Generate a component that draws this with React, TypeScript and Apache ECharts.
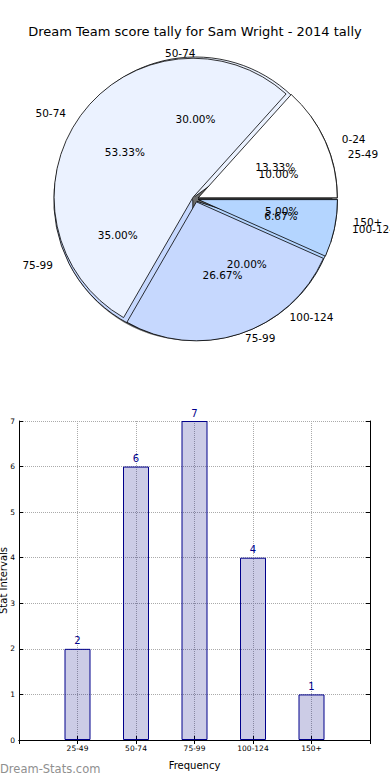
import React, { useEffect, useRef } from 'react';
import * as echarts from 'echarts';

const titleText = 'Dream Team score tally for Sam Wright - 2014 tally';

// Pie A (underneath)
const pieALabels = ['25-49', '50-74', '75-99', '100-124', '150+'];
const pieAValues = [2, 6, 7, 4, 1];
// Pie B (on top)
const pieBLabels = ['0-24', '50-74', '75-99', '100-124'];
const pieBValues = [2, 8, 4, 1];
const pieColors = ['#ffffff', '#ebf2ff', '#c6d8fe', '#b4d5ff', '#a2c8ff'];

// Bar chart
const barCategories = ['25-49', '50-74', '75-99', '100-124', '150+'];
const barValues = [2, 6, 7, 4, 1];
const yMax = 7;

export default function App() {
  const ref = useRef<HTMLDivElement>(null);
  useEffect(() => {
    document.body.style.margin = '0';
    const chart = echarts.init(ref.current!, null, { renderer: 'svg' });
    const cx = 195.5;
    const cy = 199;
    const r = 139;
    // label ellipse radii (the reference pie is slightly elliptical)
    const rx = 145.5;
    const ry = 133;
    const L = 12;
    const dist = 3;
    const font = 'DejaVu Sans';
    const base: any = {
      type: 'pie',
      center: [cx, cy],
      startAngle: 0,
      clockwise: false,
      avoidLabelOverlap: false,
      silent: true,
      emphasis: { disabled: true },
    };
    const sel = (labels: string[], values: number[]) =>
      labels.map((n, i) => ({ name: n, value: values[i], itemStyle: { color: pieColors[i] }, selected: true }));

    const direction = (p: any) => {
      const pts = p.labelLinePoints;
      let ux: number;
      let uy: number;
      if (pts && pts.length) {
        ux = pts[0][0] - cx;
        uy = pts[0][1] - cy;
      } else {
        const lr = p.labelRect;
        const left = p.align === 'left';
        ux = (left ? lr.x - dist : lr.x + lr.width + dist) - cx;
        uy = lr.y + lr.height / 2 - cy;
      }
      const len = Math.sqrt(ux * ux + uy * uy) || 1;
      return [ux / len, uy / len];
    };

    const labelSeries = (labels: string[], values: number[], kind: 'name' | 'pct') => ({
      ...base,
      radius: r,
      z: 10,
      itemStyle: { color: 'rgba(0,0,0,0)', borderWidth: 0 },
      label: {
        show: true,
        position: 'outside',
        formatter: kind === 'name' ? '{b}' : (p: any) => p.percent.toFixed(2) + '%',
        fontSize: 10.5,
        color: '#000',
        fontFamily: font,
        distanceToLabelLine: dist,
        overflow: 'none',
      },
      labelLine: { show: true, length: L, length2: 0, lineStyle: { opacity: 0, width: 0 } },
      labelLayout: (p: any) => {
        const [dx, dy] = direction(p);
        const f = kind === 'name' ? 1.1 : 0.6;
        return {
          x: cx + f * rx * dx,
          y: cy + f * ry * dy,
          align: kind === 'name' ? (dx > 1e-6 ? 'left' : 'right') : 'center',
          verticalAlign: 'middle',
          hideOverlap: false,
        };
      },
      data: labels.map((n, i) => ({ name: n, value: values[i] })),
    });

    chart.setOption({
      animation: false,
      title: {
        text: titleText,
        left: 'center',
        top: 20,
        textStyle: { fontSize: 13, fontWeight: 'normal', fontFamily: font, color: '#000' },
      },
      graphic: [
        {
          type: 'text',
          left: 0,
          top: 763,
          style: { text: 'Dream-Stats.com', fontSize: 11.5, fill: '#8f8f8f', fontFamily: font },
        },
      ],
      grid: { left: 19, right: 20, top: 421, bottom: 40, containLabel: false, outerBoundsMode: 'none' },
      xAxis: [
        {
          type: 'category',
          data: ['', ...barCategories, ''],
          boundaryGap: false,
          axisLine: { lineStyle: { color: '#000' } },
          axisTick: { inside: true, length: 4, lineStyle: { color: '#000' } },
          axisLabel: { fontSize: 7.5, color: '#000', interval: 0, margin: 4, fontFamily: font },
          splitLine: { show: true, interval: 0, lineStyle: { type: 'dotted', color: '#aaaaaa' } },
          name: 'Frequency',
          nameLocation: 'middle',
          nameGap: 20,
          nameMoveOverlap: false,
          nameTextStyle: { fontSize: 10, color: '#000', fontFamily: font },
        },
        {
          type: 'category',
          position: 'top',
          data: ['', ...barCategories, ''],
          boundaryGap: false,
          axisLine: { show: true, lineStyle: { color: '#000' } },
          axisTick: { inside: true, length: 4, lineStyle: { color: '#000' } },
          axisLabel: { show: false },
          splitLine: { show: false },
        },
      ],
      yAxis: [
        {
          type: 'value',
          min: 0,
          max: yMax,
          interval: 1,
          axisLine: { show: true, lineStyle: { color: '#000' } },
          axisTick: { show: true, inside: true, length: 4, lineStyle: { color: '#000' } },
          axisLabel: { fontSize: 7.5, color: '#000', margin: 4, fontFamily: font },
          splitLine: { show: true, lineStyle: { type: 'dotted', color: '#aaaaaa' } },
          name: 'Stat Intervals',
          nameLocation: 'middle',
          nameGap: 11,
          nameMoveOverlap: false,
          nameTextStyle: { fontSize: 10, color: '#000', fontFamily: font },
        },
        {
          type: 'value',
          position: 'right',
          min: 0,
          max: yMax,
          interval: 1,
          axisLine: { show: true, lineStyle: { color: '#000' } },
          axisTick: { show: true, inside: true, length: 4, lineStyle: { color: '#000' } },
          axisLabel: { show: false },
          splitLine: { show: false },
        },
      ],
      series: [
        {
          ...base,
          center: [cx - 2, cy + 3],
          radius: r,
          z: 1,
          itemStyle: { color: 'rgba(60,60,60,0.75)', borderWidth: 0 },
          label: { show: false },
          labelLine: { show: false },
          data: [{ name: 'shadow', value: 1 }],
        },
        {
          ...base,
          radius: r,
          z: 2,
          selectedMode: 'multiple',
          selectedOffset: 3,
          itemStyle: { borderColor: '#000', borderWidth: 0.8 },
          select: { itemStyle: { borderColor: '#000', borderWidth: 0.8 } },
          label: { show: false },
          labelLine: { show: false },
          data: sel(pieALabels, pieAValues),
        },
        {
          ...base,
          radius: r,
          z: 3,
          selectedMode: 'multiple',
          selectedOffset: 3,
          itemStyle: { borderColor: '#000', borderWidth: 0.8 },
          select: { itemStyle: { borderColor: '#000', borderWidth: 0.8 } },
          label: { show: false },
          labelLine: { show: false },
          data: sel(pieBLabels, pieBValues),
        },
        labelSeries(pieALabels, pieAValues, 'name'),
        labelSeries(pieBLabels, pieBValues, 'name'),
        labelSeries(pieALabels, pieAValues, 'pct'),
        labelSeries(pieBLabels, pieBValues, 'pct'),
        {
          type: 'bar',
          xAxisIndex: 0,
          yAxisIndex: 0,
          barWidth: 26,
          silent: true,
          data: ['-', ...barValues, '-'],
          itemStyle: { color: 'rgba(0,0,130,0.2)', borderColor: '#00008b', borderWidth: 1 },
          label: { show: true, position: 'top', color: '#00008b', fontSize: 10, distance: 3, fontFamily: font },
        },
      ],
    });
    return () => chart.dispose();
  }, []);
  return <div ref={ref} style={{ width: 390, height: 780 }} />;
}
